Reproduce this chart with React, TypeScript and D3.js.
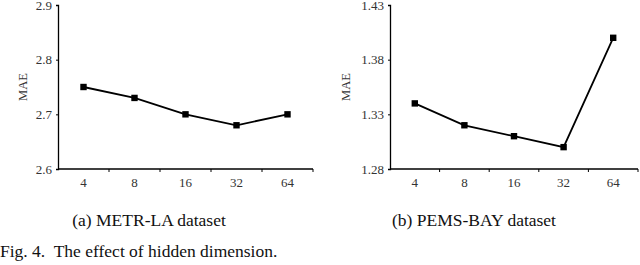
import * as d3 from 'd3';
import React, { useRef, useEffect } from 'react';

// hidden dimension sizes on the x axis
const hiddenDims = ['4', '8', '16', '32', '64'];

// MAE per hidden dimension
const metrLaMae = [2.75, 2.73, 2.70, 2.68, 2.70];
const pemsBayMae = [1.34, 1.32, 1.31, 1.30, 1.40];

const metrLaTicks = [2.6, 2.7, 2.8, 2.9];
const pemsBayTicks = [1.28, 1.33, 1.38, 1.43];

const FONT = '"Liberation Serif", "Times New Roman", serif';

type PanelProps = {
    left: number;
    right: number;
    values: number[];
    ticks: number[];
    fmt: string;
    labelX: number;
    caption: string;
    captionX: number;
};

function Panel({ left, right, values, ticks, fmt, labelX, caption, captionX }: PanelProps) {
    const ref = useRef<SVGGElement>(null);

    useEffect(() => {
        const top = 5;
        const bottom = 169;
        const g = d3.select(ref.current);
        g.selectAll('*').remove();

        const x = d3.scaleBand().domain(hiddenDims).range([left, right]);
        const y = d3.scaleLinear()
            .domain([ticks[0], ticks[ticks.length - 1]])
            .range([bottom, top]);

        // y axis
        const yAxis = g.append('g')
            .attr('transform', `translate(${left},0)`)
            .call(d3.axisLeft(y).tickValues(ticks).tickSize(2).tickPadding(4)
                .tickFormat(d3.format(fmt)));
        yAxis.select('.domain').attr('stroke', '#000').attr('stroke-width', 1.3);
        yAxis.selectAll('.tick line').attr('stroke', '#000');
        yAxis.selectAll('.tick text')
            .attr('font-family', FONT).attr('font-size', 13).attr('fill', '#333');

        // x axis with ticks at band boundaries
        const xAxis = g.append('g').attr('transform', `translate(0,${bottom})`);
        xAxis.append('line')
            .attr('x1', left).attr('x2', right)
            .attr('stroke', '#000').attr('stroke-width', 1.3);
        xAxis.selectAll('line.tk')
            .data(hiddenDims)
            .enter().append('line')
            .attr('class', 'tk')
            .attr('x1', (d) => (x(d) as number) + x.bandwidth())
            .attr('x2', (d) => (x(d) as number) + x.bandwidth())
            .attr('y1', 0).attr('y2', 3)
            .attr('stroke', '#000');
        xAxis.selectAll('text')
            .data(hiddenDims)
            .enter().append('text')
            .attr('x', (d) => (x(d) as number) + x.bandwidth() / 2)
            .attr('y', 18)
            .attr('text-anchor', 'middle')
            .attr('font-family', FONT).attr('font-size', 13).attr('fill', '#333')
            .text((d) => d);

        // line
        const line = d3.line<number>()
            .x((d, i) => (x(hiddenDims[i]) as number) + x.bandwidth() / 2)
            .y((d) => y(d));
        g.append('path')
            .datum(values)
            .attr('d', line)
            .attr('fill', 'none')
            .attr('stroke', '#000')
            .attr('stroke-width', 1.8);

        g.selectAll('rect.mk')
            .data(values)
            .enter().append('rect')
            .attr('class', 'mk')
            .attr('x', (d, i) => (x(hiddenDims[i]) as number) + x.bandwidth() / 2 - 3.2)
            .attr('y', (d) => y(d) - 3.2)
            .attr('width', 6.4).attr('height', 6.4)
            .attr('fill', '#000');

        // axis title
        g.append('text')
            .attr('transform', `translate(${labelX},${(top + bottom) / 2}) rotate(-90)`)
            .attr('text-anchor', 'middle')
            .attr('font-family', FONT).attr('font-size', 12.5).attr('fill', '#333')
            .text('MAE');

        g.append('text')
            .attr('x', captionX).attr('y', 226)
            .attr('text-anchor', 'middle')
            .attr('font-family', FONT).attr('font-size', 17.5).attr('fill', '#111')
            .text(caption);
    }, [values]);

    return <g ref={ref} />;
}

export default function App() {
    return (
        <svg width={640} height={265}
            style={{ position: 'absolute', left: 0, top: 0, background: '#fff' }}>
            <Panel left={58} right={313} values={metrLaMae} ticks={metrLaTicks} fmt=".1f"
                labelX={27} caption="(a) METR-LA dataset" captionX={149} />
            <Panel left={390} right={638} values={pemsBayMae} ticks={pemsBayTicks} fmt=".2f"
                labelX={350} caption="(b) PEMS-BAY dataset" captionX={474} />
            <text x={0} y={257} fontFamily={FONT} fontSize={17.5} fill="#111"
                xmlSpace="preserve">Fig. 4.  The effect of hidden dimension.</text>
        </svg>
    );
}
